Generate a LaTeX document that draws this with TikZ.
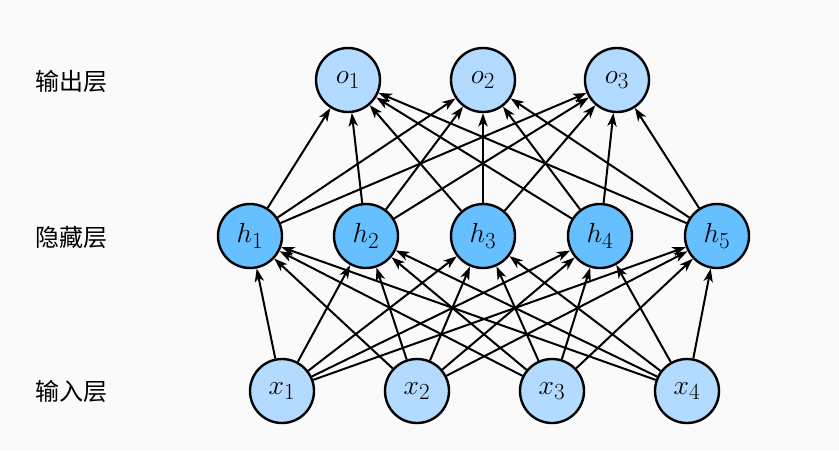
\documentclass[tikz,border=0pt]{standalone}
\usepackage{fontspec}
\usepackage{amsmath}
\usetikzlibrary{arrows.meta}
\newfontfamily\cjk{Noto Sans CJK SC}
\DeclareMathSizes{22}{22}{16}{12}
\definecolor{nnlight}{HTML}{B3DBFF}
\definecolor{nnhidden}{HTML}{66BFFF}
\definecolor{nnback}{HTML}{FAFAFA}

\begin{document}
\begin{tikzpicture}[x=0.75pt, y=-0.75pt,
    neuron/.style={draw, circle, line width=1.8pt, minimum size=48pt, inner sep=0pt,
                   font=\fontsize{22}{24}\selectfont},
    layername/.style={anchor=west, font=\cjk\fontsize{18}{20}\selectfont},
    link/.style={line width=1.5pt, -{Stealth[length=10pt, width=7pt, inset=2.8pt]}}]
    \fill[nnback] (0,0) rectangle (839,450);
    \useasboundingbox (0,0) rectangle (839,450);

    \node[layername] (Lo) at (31,81) {输出层};
    \node[layername] (Lh) at (31,237) {隐藏层};
    \node[layername] (Lx) at (31,391) {输入层};

    \node[neuron, fill=nnlight] (o1) at (348,80) {$o_1$};
    \node[neuron, fill=nnlight] (o2) at (483,80) {$o_2$};
    \node[neuron, fill=nnlight] (o3) at (617,80) {$o_3$};

    \node[neuron, fill=nnhidden] (h1) at (250,236) {$h_1$};
    \node[neuron, fill=nnhidden] (h2) at (366,236) {$h_2$};
    \node[neuron, fill=nnhidden] (h3) at (483,236) {$h_3$};
    \node[neuron, fill=nnhidden] (h4) at (600,236) {$h_4$};
    \node[neuron, fill=nnhidden] (h5) at (717,236) {$h_5$};

    \node[neuron, fill=nnlight] (x1) at (282,391) {$x_1$};
    \node[neuron, fill=nnlight] (x2) at (417,391) {$x_2$};
    \node[neuron, fill=nnlight] (x3) at (552,391) {$x_3$};
    \node[neuron, fill=nnlight] (x4) at (687,391) {$x_4$};

    % input -> hidden
    \foreach \i in {1,...,4}
        \foreach \j in {1,...,5}
            \draw[link] (x\i) -- (h\j);
    % hidden -> output
    \foreach \j in {1,...,5}
        \foreach \k in {1,...,3}
            \draw[link] (h\j) -- (o\k);
\end{tikzpicture}
\end{document}
